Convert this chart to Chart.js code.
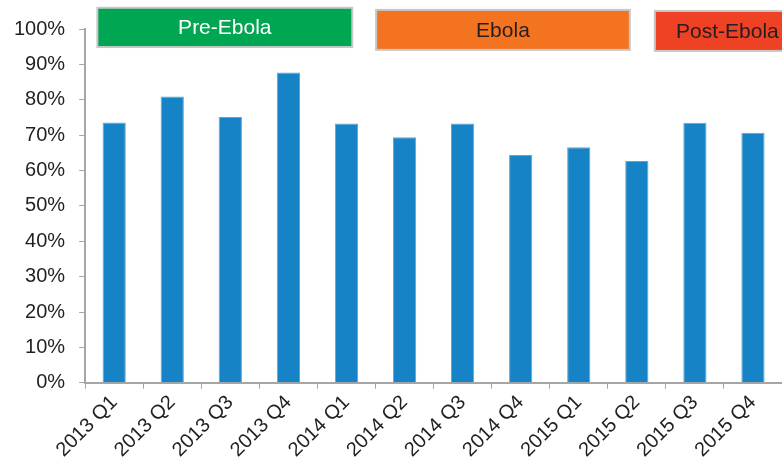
<!DOCTYPE html>
<html>
<head>
<meta charset="utf-8">
<script src="https://cdn.jsdelivr.net/npm/chart.js@4.4.1/dist/chart.umd.min.js"></script>
<style>
    body { margin: 0; background: #fff; }
    #chart { display: block; }
</style>
</head>
<body>
<canvas id="chart" width="782" height="461"></canvas>
<script>
const quarters = ["2013 Q1", "2013 Q2", "2013 Q3", "2013 Q4", "2014 Q1", "2014 Q2",
    "2014 Q3", "2014 Q4", "2015 Q1", "2015 Q2", "2015 Q3", "2015 Q4"];
const shares = [73.6, 80.9, 75.1, 87.7, 73.3, 69.4, 73.3, 64.4, 66.6, 62.7, 73.5, 70.7];
const phaseNames = ["Pre-Ebola", "Ebola", "Post-Ebola"];

// phase banners, spans given in category / value units
const phaseBoxes = [
    { from: -0.29, to: 4.1, mid: 1.905, top: 106, bottom: 94.9, fill: '#00a651', text: '#ffffff' },
    { from: 4.51, to: 8.88, mid: 6.695, top: 105.4, bottom: 94.1, fill: '#f47321', text: '#231f20' },
    { from: 9.31, to: 12.6, mid: 10.56, top: 105.1, bottom: 93.8, fill: '#ef4123', text: '#231f20' },
];

const phasePlugin = {
    id: 'phases',
    afterDraw(chart) {
        const ctx = chart.ctx;
        const x = chart.scales.x;
        const y = chart.scales.y;
        ctx.save();
        phaseNames.forEach((name, i) => {
            const b = phaseBoxes[i];
            const left = x.getPixelForValue(b.from);
            const right = x.getPixelForValue(b.to);
            const top = y.getPixelForValue(b.top);
            const bottom = y.getPixelForValue(b.bottom);
            ctx.fillStyle = b.fill;
            ctx.fillRect(left, top, right - left, bottom - top);
            ctx.strokeStyle = '#c8c8c8';
            ctx.lineWidth = 2;
            ctx.strokeRect(left, top, right - left, bottom - top);
            ctx.fillStyle = b.text;
            ctx.font = '21px "Liberation Sans", Arial, sans-serif';
            ctx.textAlign = 'center';
            ctx.textBaseline = 'middle';
            ctx.fillText(name, x.getPixelForValue(b.mid), (top + bottom) / 2 + 1);
        });
        ctx.restore();
    }
};

const tickFont = { family: '"Liberation Sans", Arial, sans-serif', size: 20 };

new Chart(document.getElementById('chart'), {
    type: 'bar',
    data: {
        labels: quarters,
        datasets: [{
            data: shares,
            backgroundColor: '#1683c6',
            borderColor: '#5aa8d8',
            borderWidth: { top: 1, left: 1, right: 1, bottom: 0 },
            barPercentage: 0.4,
            categoryPercentage: 1,
        }]
    },
    options: {
        responsive: false,
        animation: false,
        layout: { padding: { top: 29, right: 0, left: 0, bottom: -3 } },
        plugins: {
            legend: { display: false },
            tooltip: { enabled: false },
        },
        scales: {
            x: {
                offset: true,
                grid: {
                    offset: true,
                    drawOnChartArea: false,
                    drawTicks: true,
                    tickLength: 6,
                    color: '#a6a6a6',
                },
                border: { color: '#a6a6a6', width: 2 },
                ticks: {
                    font: tickFont,
                    color: '#231f20',
                    minRotation: 45,
                    maxRotation: 45,
                    padding: 2,
                },
            },
            y: {
                min: 0,
                max: 100,
                grid: {
                    drawOnChartArea: false,
                    drawTicks: true,
                    tickLength: 6,
                    color: '#a6a6a6',
                },
                border: { color: '#a6a6a6', width: 2 },
                ticks: {
                    stepSize: 10,
                    font: tickFont,
                    color: '#231f20',
                    padding: 14,
                    callback: (v) => v + '%',
                },
            },
        },
    },
    plugins: [phasePlugin],
});
</script>
</body>
</html>
